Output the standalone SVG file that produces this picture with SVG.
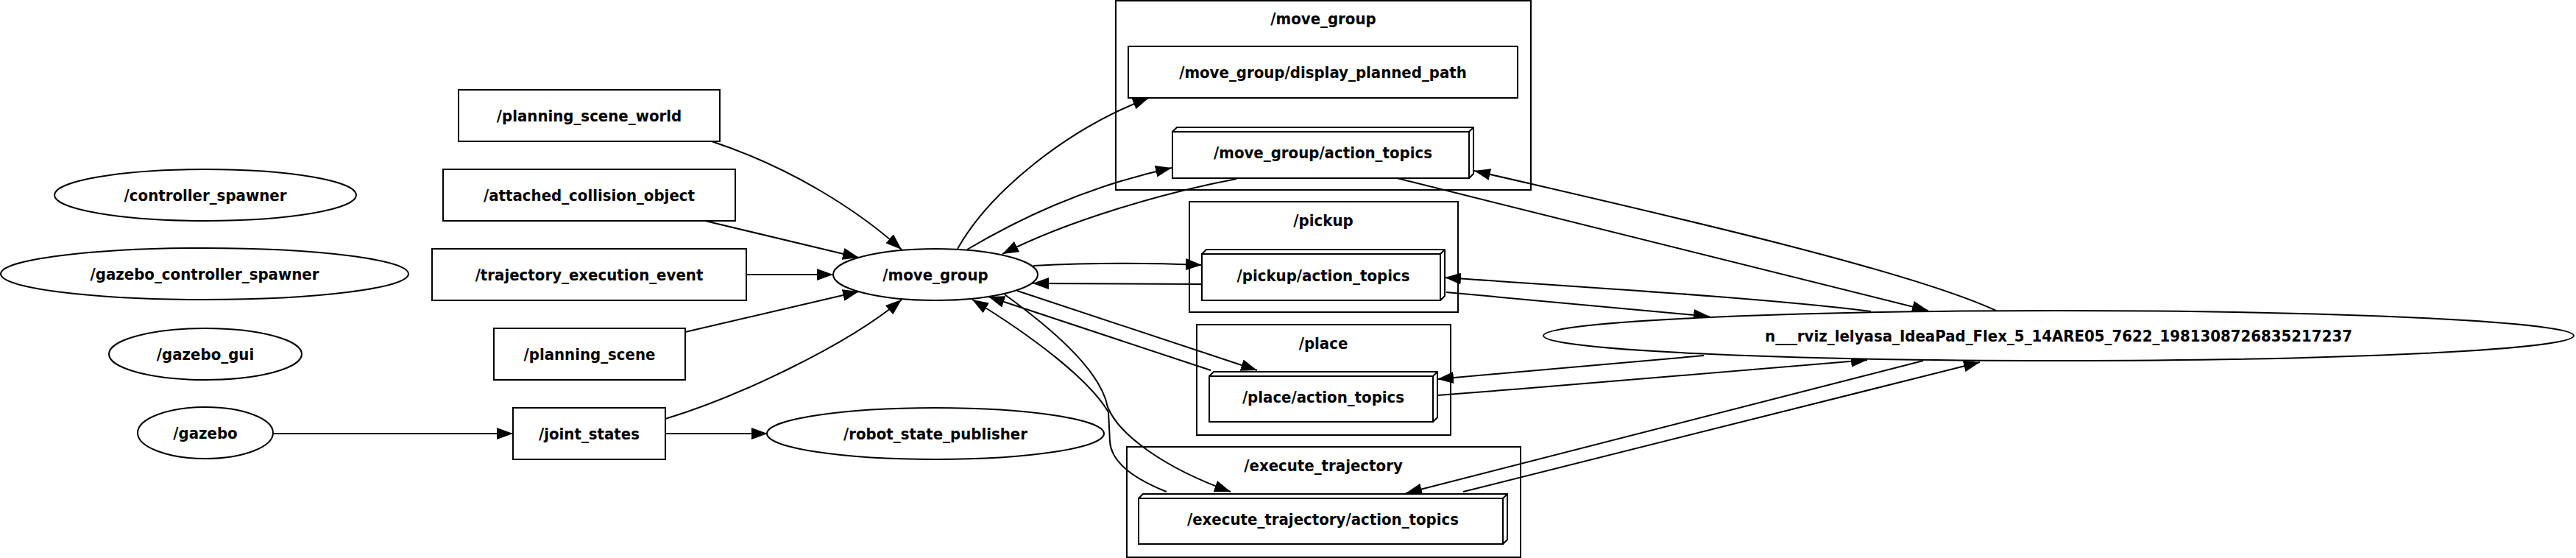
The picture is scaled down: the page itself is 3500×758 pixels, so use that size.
<svg xmlns="http://www.w3.org/2000/svg" width="3500" height="758" viewBox="0 0 3500 758">
<style>
text{font-family:"DejaVu Sans","Liberation Sans",sans-serif;font-weight:bold;font-size:22px;text-anchor:middle;fill:#000}
.n{fill:#fff;stroke:#000;stroke-width:2}
.c{fill:none;stroke:#000;stroke-width:2}
.e{fill:none;stroke:#000;stroke-width:2;marker-end:url(#ah)}
.l{fill:none;stroke:#000;stroke-width:2}
</style>
<defs>
<marker id="ah" markerUnits="userSpaceOnUse" viewBox="0 0 22 16" markerWidth="22" markerHeight="16" refX="22" refY="8" orient="auto"><path d="M0,0 L22,8 L0,16 z" fill="#000"/></marker>
</defs>
<rect x="0" y="0" width="3500" height="758" fill="#fff"/>

<g id="clusters">
<g id="cluster_move_group"><rect class="c" x="1516" y="1" width="564" height="257"/><text transform="translate(1798,33) scale(0.9,1)">/move_group</text></g>
<g id="cluster_pickup"><rect class="c" x="1616" y="274" width="365" height="150"/><text transform="translate(1798,307) scale(0.9,1)">/pickup</text></g>
<g id="cluster_place"><rect class="c" x="1626" y="441" width="345" height="150"/><text transform="translate(1798,474) scale(0.9,1)">/place</text></g>
<g id="cluster_execute_trajectory"><rect class="c" x="1531" y="607" width="535" height="150"/><text transform="translate(1798,640) scale(0.9,1)">/execute_trajectory</text></g>
</g>

<g id="edges">
<path id="e_gazebo_joint" class="e" d="M371,589 L697,589"/>
<path id="e_joint_rsp" class="e" d="M904,589 L1043,589"/>
<path id="e_psw_mg" class="e" d="M967,192 C1075,228 1165,285 1225,339"/>
<path id="e_aco_mg" class="e" d="M958,300 L1167,350"/>
<path id="e_tee_mg" class="e" d="M1014,373 L1132,373"/>
<path id="e_ps_mg" class="e" d="M931,451 L1167,396"/>
<path id="e_js_mg" class="e" d="M904,569 C1000,540 1150,470 1225,407"/>
<path id="e_mg_dpp" class="e" d="M1301,338 C1345,260 1450,175 1561,133"/>
<path id="e_mg_mgat" class="e" d="M1314,339 C1380,300 1470,255 1592,228"/>
<path id="e_mgat_mg" class="e" d="M1680,243 C1580,262 1450,300 1362,345"/>
<path id="e_mg_pick" class="e" d="M1404,361 C1480,357 1560,357 1633,360"/>
<path id="e_pick_mg" class="e" d="M1633,386 L1403,385"/>
<path id="e_mg_place" class="e" d="M1382,395 L1708,503"/>
<path id="e_place_mg" class="e" d="M1645,503 L1343,403"/>
<path id="e_mg_exec" class="e" d="M1365,400 C1420,440 1495,500 1505,553 C1520,590 1580,635 1672,668"/>
<path id="e_exec_mg" class="e" d="M1585,668 C1545,652 1510,630 1508,600 L1506,560 C1480,515 1400,455 1321,407"/>
<path id="e_mgat_rviz" class="e" d="M1898,242 L2620,422"/>
<path id="e_rviz_mgat" class="e" d="M2712,422 C2600,370 2300,300 2003,232"/>
<path id="e_rviz_pick" class="e" d="M2542,423 C2400,405 2150,390 1963,377"/>
<path id="e_pick_rviz" class="e" d="M1965,397 L2323,430"/>
<path id="e_rviz_place" class="e" d="M2315,483 L1953,515"/>
<path id="e_place_rviz" class="e" d="M1953,537 C2150,522 2350,505 2537,489"/>
<path id="e_rviz_exec" class="e" d="M2613,490 L1910,670"/>
<path id="e_exec_rviz" class="e" d="M1988,668 L2690,492"/>
</g>

<g id="n_controller_spawner"><ellipse class="n" cx="279" cy="265" rx="205" ry="35"/><text transform="translate(279,273) scale(0.9,1)">/controller_spawner</text></g>
<g id="n_gazebo_controller_spawner"><ellipse class="n" cx="278" cy="372" rx="277" ry="35"/><text transform="translate(278,380) scale(0.9,1)">/gazebo_controller_spawner</text></g>
<g id="n_gazebo_gui"><ellipse class="n" cx="279" cy="481" rx="131" ry="35"/><text transform="translate(279,489) scale(0.9,1)">/gazebo_gui</text></g>
<g id="n_gazebo"><ellipse class="n" cx="279" cy="588" rx="92" ry="35"/><text transform="translate(279,596) scale(0.9,1)">/gazebo</text></g>

<g id="t_planning_scene_world"><rect class="n" x="623" y="122" width="355" height="70"/><text transform="translate(800.5,165) scale(0.9,1)">/planning_scene_world</text></g>
<g id="t_attached_collision_object"><rect class="n" x="602" y="230" width="397" height="70"/><text transform="translate(800.5,273) scale(0.9,1)">/attached_collision_object</text></g>
<g id="t_trajectory_execution_event"><rect class="n" x="587" y="338" width="427" height="70"/><text transform="translate(800.5,381) scale(0.9,1)">/trajectory_execution_event</text></g>
<g id="t_planning_scene"><rect class="n" x="671" y="446" width="260" height="70"/><text transform="translate(801,489) scale(0.9,1)">/planning_scene</text></g>
<g id="t_joint_states"><rect class="n" x="697" y="554" width="207" height="70"/><text transform="translate(800.5,597) scale(0.9,1)">/joint_states</text></g>

<g id="n_move_group"><ellipse class="n" cx="1271" cy="373" rx="139" ry="35"/><text transform="translate(1271,381) scale(0.9,1)">/move_group</text></g>
<g id="n_robot_state_publisher"><ellipse class="n" cx="1271" cy="589" rx="229" ry="35"/><text transform="translate(1271,597) scale(0.9,1)">/robot_state_publisher</text></g>

<g id="t_display_planned_path"><rect class="n" x="1533" y="63" width="529" height="70"/><text transform="translate(1797.5,106) scale(0.9,1)">/move_group/display_planned_path</text></g>
<g id="a_move_group_action_topics"><rect class="n" x="1593" y="179" width="403" height="63"/><path class="l" d="M1593,179 L1599,173 L2002,173 L2002,236 L1996,242 M1996,179 L2002,173"/><text transform="translate(1797.5,215) scale(0.9,1)">/move_group/action_topics</text></g>
<g id="a_pickup_action_topics"><rect class="n" x="1633" y="345" width="324" height="63"/><path class="l" d="M1633,345 L1639,339 L1963,339 L1963,402 L1957,408 M1957,345 L1963,339"/><text transform="translate(1798,382) scale(0.9,1)">/pickup/action_topics</text></g>
<g id="a_place_action_topics"><rect class="n" x="1643" y="511" width="304" height="62"/><path class="l" d="M1643,511 L1649,505 L1953,505 L1953,567 L1947,573 M1947,511 L1953,505"/><text transform="translate(1798,547) scale(0.9,1)">/place/action_topics</text></g>
<g id="a_execute_trajectory_action_topics"><rect class="n" x="1547" y="677" width="495" height="62"/><path class="l" d="M1547,677 L1553,671 L2048,671 L2048,733 L2042,739 M2042,677 L2048,671"/><text transform="translate(1797.5,713) scale(0.9,1)">/execute_trajectory/action_topics</text></g>

<g id="n_rviz"><ellipse class="n" cx="2797" cy="456" rx="700" ry="34"/><text transform="translate(2797,464) scale(0.9,1)">n___rviz_lelyasa_IdeaPad_Flex_5_14ARE05_7622_1981308726835217237</text></g>
</svg>
